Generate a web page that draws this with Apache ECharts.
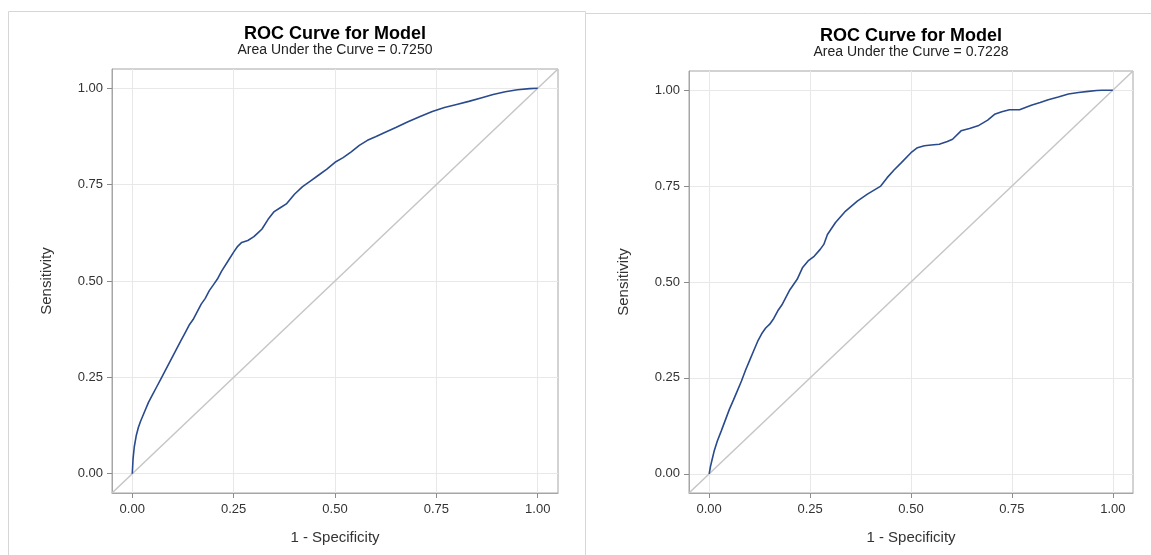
<!DOCTYPE html>
<html>
<head>
<meta charset="utf-8">
<script src="https://cdn.jsdelivr.net/npm/echarts@6/dist/echarts.min.js"></script>
<style>
html,body{margin:0;padding:0;background:#fff;}
#chart{width:1151px;height:555px;}
</style>
</head>
<body>
<div id="chart"></div>
<script>
// ---- data ----
var tickValues = [0, 0.25, 0.5, 0.75, 1];
var leftTitle = 'ROC Curve for Model';
var leftSubtitle = 'Area Under the Curve = 0.7250';
var rightTitle = 'ROC Curve for Model';
var rightSubtitle = 'Area Under the Curve = 0.7228';
var xName = '1 - Specificity';
var yName = 'Sensitivity';

var leftFpr = [0,0.002,0.005,0.01,0.015,0.02,0.03,0.04,0.05,0.06,0.07,0.08,0.09,0.10,0.11,0.12,0.13,0.14,0.15,0.16,0.17,0.18,0.19,0.20,0.21,0.22,0.235,0.25,0.26,0.27,0.285,0.30,0.31,0.32,0.335,0.35,0.365,0.38,0.40,0.42,0.44,0.46,0.48,0.50,0.52,0.54,0.56,0.58,0.60,0.62,0.65,0.68,0.71,0.74,0.77,0.80,0.83,0.86,0.89,0.92,0.95,0.98,1.0];
var leftTpr = [0,0.04,0.07,0.10,0.12,0.135,0.16,0.185,0.205,0.225,0.245,0.265,0.285,0.305,0.325,0.345,0.365,0.385,0.40,0.42,0.44,0.455,0.475,0.49,0.505,0.525,0.55,0.575,0.59,0.60,0.605,0.615,0.625,0.635,0.66,0.68,0.69,0.70,0.725,0.745,0.76,0.775,0.79,0.808,0.82,0.835,0.852,0.865,0.874,0.884,0.898,0.913,0.927,0.94,0.95,0.958,0.966,0.975,0.984,0.991,0.996,0.999,1.0];

var rightFpr = [0,0.003,0.007,0.012,0.02,0.03,0.04,0.05,0.06,0.07,0.08,0.09,0.10,0.11,0.12,0.13,0.14,0.15,0.16,0.17,0.18,0.19,0.20,0.218,0.231,0.245,0.26,0.275,0.284,0.293,0.313,0.338,0.367,0.392,0.425,0.441,0.458,0.475,0.50,0.516,0.533,0.55,0.57,0.59,0.603,0.624,0.645,0.666,0.69,0.707,0.725,0.744,0.769,0.798,0.82,0.84,0.865,0.89,0.915,0.939,0.96,0.973,0.998,1.0];
var rightTpr = [0,0.018,0.036,0.058,0.085,0.112,0.14,0.168,0.192,0.217,0.242,0.27,0.295,0.32,0.345,0.365,0.38,0.39,0.405,0.425,0.44,0.46,0.48,0.507,0.537,0.555,0.567,0.585,0.598,0.624,0.655,0.685,0.711,0.729,0.75,0.772,0.792,0.81,0.837,0.85,0.855,0.857,0.859,0.866,0.872,0.894,0.9,0.907,0.922,0.937,0.944,0.949,0.949,0.961,0.968,0.975,0.982,0.99,0.994,0.997,0.999,1.0,1.0,1.0];

var diagX = [-0.05, 1.05];
var diagY = [-0.05, 1.05];

function zip(a, b) { return a.map(function (v, i) { return [v, b[i]]; }); }

var FONT = '"Liberation Sans", Arial, sans-serif';
var LINE_BLUE = '#2a4a8e';

function xAxis(gi) {
  return {
    type: 'value', gridIndex: gi, min: -0.05, max: 1.05,
    name: xName, nameLocation: 'middle', nameGap: 37,
    nameTextStyle: { fontFamily: FONT, fontSize: 15, color: '#333' },
    axisLine: { show: true, onZero: false, lineStyle: { color: '#a6a6a6' } },
    axisTick: { show: true, customValues: tickValues, length: 5, lineStyle: { color: '#8c8c8c' } },
    axisLabel: { customValues: tickValues, margin: 10, fontFamily: FONT, fontSize: 13, color: '#333',
      formatter: function (v) { return v.toFixed(2); } },
    splitLine: { show: true, lineStyle: { color: '#e8e8e8', width: 1 } }
  };
}
function yAxis(gi) {
  return {
    type: 'value', gridIndex: gi, min: -0.05, max: 1.05,
    name: yName, nameLocation: 'middle', nameGap: 58,
    nameTextStyle: { fontFamily: FONT, fontSize: 15, color: '#333' },
    axisLine: { show: true, onZero: false, lineStyle: { color: '#a6a6a6' } },
    axisTick: { show: true, customValues: tickValues, length: 5, lineStyle: { color: '#8c8c8c' } },
    axisLabel: { customValues: tickValues, margin: 9, fontFamily: FONT, fontSize: 13, color: '#333',
      formatter: function (v) { return v.toFixed(2); } },
    splitLine: { show: true, lineStyle: { color: '#e8e8e8', width: 1 } }
  };
}

var chart = echarts.init(document.getElementById('chart'), null, { renderer: 'canvas' });
chart.setOption({
  animation: false,
  backgroundColor: '#fff',
  grid: [
    { left: 112, top: 69, width: 446, height: 424, show: true, borderColor: '#a6a6a6', borderWidth: 1, backgroundColor: 'transparent' },
    { left: 689, top: 71, width: 444, height: 422, show: true, borderColor: '#a6a6a6', borderWidth: 1, backgroundColor: 'transparent' }
  ],
  xAxis: [xAxis(0), xAxis(1)],
  yAxis: [yAxis(0), yAxis(1)],
  graphic: [
    { type: 'rect', z: -10, silent: true, shape: { x: 8.5, y: 11.5, width: 577, height: 600 }, style: { fill: 'none', stroke: '#d6d6d6', lineWidth: 1 } },
    { type: 'rect', z: -10, silent: true, shape: { x: 585.5, y: 13.5, width: 600, height: 600 }, style: { fill: 'none', stroke: '#d6d6d6', lineWidth: 1 } },
    { type: 'text', x: 335, y: 34, style: { text: leftTitle, font: 'bold 18px ' + FONT, fill: '#000', align: 'center', verticalAlign: 'middle' } },
    { type: 'text', x: 335, y: 50, style: { text: leftSubtitle, font: '14px ' + FONT, fill: '#222', align: 'center', verticalAlign: 'middle' } },
    { type: 'text', x: 911, y: 36, style: { text: rightTitle, font: 'bold 18px ' + FONT, fill: '#000', align: 'center', verticalAlign: 'middle' } },
    { type: 'text', x: 911, y: 52, style: { text: rightSubtitle, font: '14px ' + FONT, fill: '#222', align: 'center', verticalAlign: 'middle' } }
  ],
  series: [
    { type: 'line', xAxisIndex: 0, yAxisIndex: 0, data: zip(diagX, diagY), symbol: 'none', silent: true,
      lineStyle: { color: '#c6c6c6', width: 1.5 } },
    { type: 'line', xAxisIndex: 0, yAxisIndex: 0, data: zip(leftFpr, leftTpr), symbol: 'none', silent: true,
      lineStyle: { color: LINE_BLUE, width: 1.6 } },
    { type: 'line', xAxisIndex: 1, yAxisIndex: 1, data: zip(diagX, diagY), symbol: 'none', silent: true,
      lineStyle: { color: '#c6c6c6', width: 1.5 } },
    { type: 'line', xAxisIndex: 1, yAxisIndex: 1, data: zip(rightFpr, rightTpr), symbol: 'none', silent: true,
      lineStyle: { color: LINE_BLUE, width: 1.6 } }
  ]
});
</script>
</body>
</html>
